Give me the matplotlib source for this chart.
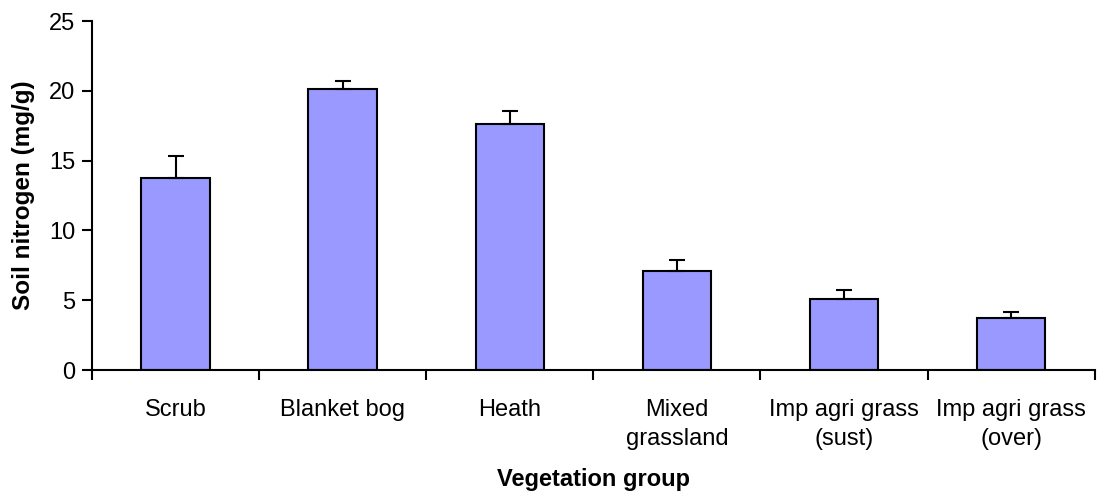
import matplotlib
matplotlib.use("Agg")
import matplotlib.pyplot as plt
import numpy as np

groups = ["Scrub", "Blanket bog", "Heath", "Mixed\ngrassland",
          "Imp agri grass\n(sust)", "Imp agri grass\n(over)"]
nitrogen = [13.75, 20.13, 17.62, 7.07, 5.09, 3.75]
errors = [1.6, 0.55, 0.93, 0.81, 0.64, 0.43]
yticks = [0, 5, 10, 15, 20, 25]

plt.rcParams["font.family"] = ["Liberation Sans", "DejaVu Sans"]

fig = plt.figure(figsize=(10.97, 4.91), dpi=100)
ax = fig.add_axes([0.0839, 0.2464, 0.914, 0.7108])

x = np.arange(len(groups))
ax.bar(x, nitrogen, width=0.41, color="#9999ff", edgecolor="black", linewidth=1.5,
       yerr=[np.zeros(len(errors)), errors],
       error_kw=dict(ecolor="black", elinewidth=1.5, capsize=6, capthick=1.5))

ax.set_xlim(-0.5, len(groups) - 0.5)
ax.set_ylim(0, 25)
ax.set_yticks(yticks)
ax.set_xticks(np.arange(len(groups) + 1) - 0.5)
ax.set_xticklabels([])
ax.set_xticks(x, minor=True)
ax.set_xticklabels(groups, minor=True, fontsize=17, linespacing=1.42)
ax.tick_params(axis="x", which="major", direction="out", length=7, width=1.5)
ax.tick_params(axis="x", which="minor", length=0, pad=21)
ax.tick_params(axis="y", direction="out", length=7, width=1.5, labelsize=17, pad=5)

for side in ["top", "right"]:
    ax.spines[side].set_visible(False)
for side in ["left", "bottom"]:
    ax.spines[side].set_linewidth(1.5)

ax.set_ylabel("Soil nitrogen (mg/g)", fontsize=17.5, fontweight="bold", labelpad=10)
ax.set_xlabel("Vegetation group", fontsize=17, fontweight="bold", labelpad=12.5)

fig.savefig("out.png", dpi=100)
